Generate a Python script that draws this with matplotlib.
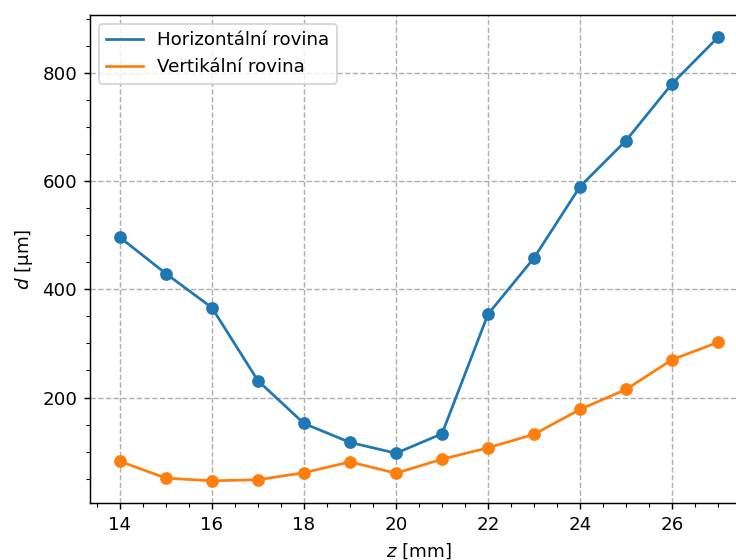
import numpy as np
import matplotlib
matplotlib.use("Agg")
import matplotlib.pyplot as plt

# Spot diameter along z for both planes
z = [14, 15, 16, 17, 18, 19, 20, 21, 22, 23, 24, 25, 26, 27]
d_horiz = [496, 429, 366, 231, 152, 117, 97, 133, 354, 458, 590, 675, 780, 866]
d_vert = [82, 51, 46, 48, 61, 81, 60, 86, 107, 132, 178, 215, 270, 302]

DPI = 131
fig = plt.figure(figsize=(736 / DPI, 560 / DPI), dpi=DPI)
ax = fig.add_axes([90 / 736, 57 / 560, 658 / 736, 488 / 560])

ax.plot(z, d_horiz, color='C0', label='Horizontální rovina')
ax.scatter(z, d_horiz, color='C0', zorder=3)
ax.plot(z, d_vert, color='C1', label='Vertikální rovina')
ax.scatter(z, d_vert, color='C1', zorder=3)

ax.set_xlabel(r'$z$ [mm]')
ax.set_ylabel(r'$d$ [μm]')
ax.minorticks_on()
ax.grid(which='major', linestyle='--')
ax.legend(loc='upper left')

fig.savefig('out.png', dpi=DPI)
